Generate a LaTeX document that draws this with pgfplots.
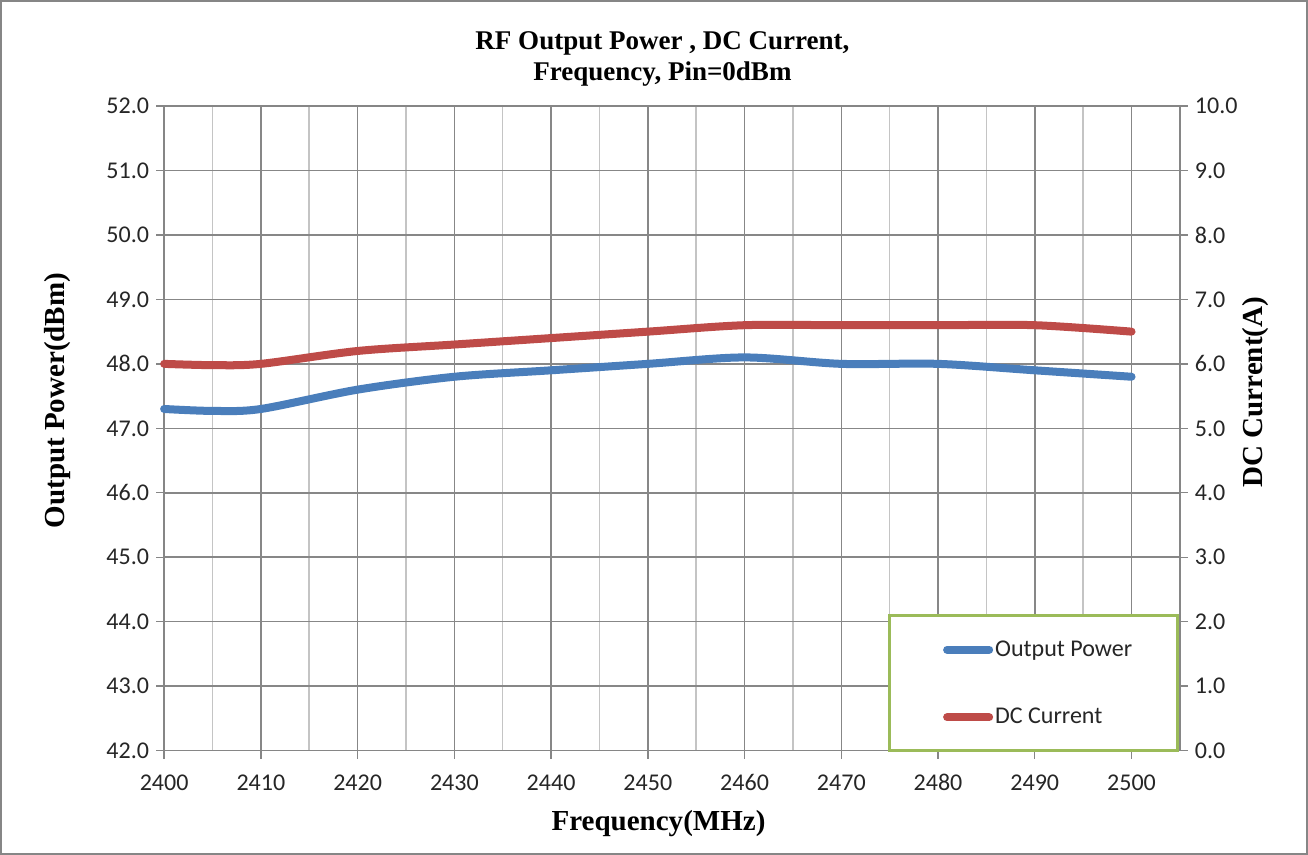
\documentclass[border=0pt]{standalone}
\usepackage{fontspec}
\setmainfont{Liberation Serif}
\newfontfamily\calfont{Carlito}
\usepackage{pgfplots}
\pgfplotsset{compat=1.18}
\definecolor{opblue}{HTML}{4A7EBB}
\definecolor{dcred}{HTML}{BE4B48}
\definecolor{lggreen}{HTML}{9BBB59}
\definecolor{gridmaj}{HTML}{878787}
\definecolor{gridmin}{HTML}{C4C4C4}
\definecolor{axgray}{HTML}{868686}
\definecolor{txt}{HTML}{262626}

\pgfplotstableread{
f p
2400 47.3
2405 47.27
2410 47.3
2420 47.6
2430 47.8
2440 47.9
2450 48.0
2460 48.1
2470 48.0
2480 48.0
2490 47.9
2500 47.8
}\powertable
\pgfplotstableread{
f i
2400 6.0
2405 5.98
2410 6.0
2420 6.2
2430 6.3
2440 6.4
2450 6.5
2460 6.6
2470 6.6
2480 6.6
2490 6.6
2500 6.5
}\currenttable

\pgfplotsset{
  common/.style={
    scale only axis, width=507.5pt, height=322pt,
    xmin=2400, xmax=2505,
    axis line style={axgray, line width=0.7pt},
    tick style={axgray, line width=0.7pt},
    major tick length=4pt,
    tick align=outside,
    /pgf/number format/assume math mode=true,
    tick label style={font=\calfont\fontsize{12}{14}\selectfont, text=txt},
    yticklabel style={/pgf/number format/.cd, fixed, fixed zerofill, precision=1},
    xticklabel style={text height=9pt, text depth=1pt, yshift=-3.5pt, /pgf/number format/.cd, 1000 sep={}},
    clip=false,
  },
}

\begin{document}
\begin{tikzpicture}
\begin{axis}[
  common,
  name=ax,
  ymin=42, ymax=52,
  xtick={2400,2410,...,2500},
  minor xtick={2405,2415,...,2495},
  minor tick length=0pt,
  ytick={42,43,...,52},
  xtick pos=lower, ytick pos=left,
  grid=both,
  major grid style={gridmaj, line width=0.75pt},
  minor grid style={gridmin, line width=0.75pt},
  xlabel={Frequency(MHz)},
  xlabel style={at={(axis description cs:0.4867,-0.1134)}, anchor=center, font=\bfseries\fontsize{14.5}{17}\selectfont},
  ylabel={Output Power(dBm)},
  ylabel style={at={(axis description cs:-0.1054,0.543)}, anchor=center, font=\bfseries\fontsize{14.5}{17}\selectfont},
  title={RF Output Power , DC Current,\\Frequency, Pin=0dBm},
  title style={at={(axis description cs:0.4906,1.054)}, anchor=center, align=center, font=\bfseries\fontsize{13.5}{15.5}\selectfont},
]
\draw[lggreen, line width=1.6pt, fill=white] (rel axis cs:0.7143,0) rectangle (rel axis cs:0.998,0.2096);
\addplot[opblue, line width=4pt, line cap=round, smooth] table[x=f, y=p] {\powertable};
\end{axis}
\begin{axis}[
  common,
  ymin=0, ymax=10,
  ytick={0,1,...,10},
  axis x line=none,
  axis y line*=right,
  ylabel={DC Current(A)},
  ylabel style={at={(axis description cs:1.074,0.556)}, anchor=center, font=\bfseries\fontsize{14.5}{17}\selectfont},
  legend style={at={(axis description cs:0.7665,0.104)}, anchor=west, draw=none, fill=none, inner sep=0pt, row sep=22.5pt,
    font=\calfont\fontsize{12}{14}\selectfont, text=txt, nodes={inner sep=1pt}},
  legend cell align=left,
  legend image code/.code={\draw[#1, line width=4pt, line cap=round] (2pt,0pt) -- (23pt,0pt);},
]
\addlegendimage{opblue}
\addlegendentry{Output Power}
\addplot[dcred, line width=4pt, line cap=round, smooth] table[x=f, y=i] {\currenttable};
\addlegendentry{DC Current}
\end{axis}
\draw[axgray, line width=1pt] ([shift={(-81.5pt,-51.5pt)}]ax.south west) rectangle ([shift={(571pt,374.5pt)}]ax.south west);
\end{tikzpicture}
\end{document}
